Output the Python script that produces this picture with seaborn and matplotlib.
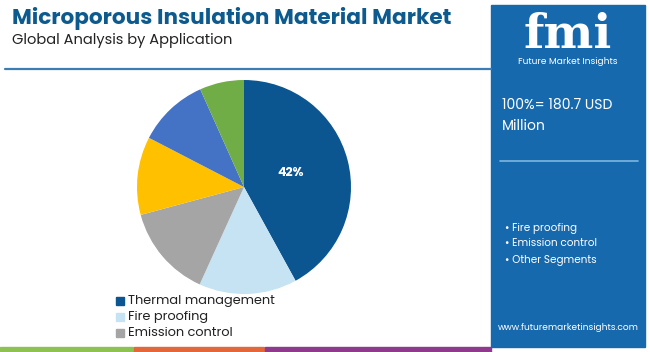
import matplotlib.pyplot as plt
import seaborn as sns
from matplotlib.patches import Rectangle

sns.set_theme(style="white")
plt.rcParams["font.family"] = ["Poppins", "Lato", "DejaVu Sans"]

segments = ["Thermal management", "Fire proofing", "Emission control",
            "Segment 4", "Segment 5", "Segment 6"]
shares = [42.0, 14.8, 14.0, 11.8, 10.7, 6.7]
colors = ["#0B5591", "#C5E3F3", "#A5A5A5", "#FFC000", "#4472C4", "#70AD47"]
legend_items = ["Thermal management", "Fire proofing", "Emission control"]
side_bullets = ["Fire proofing", "Emission control", "Other Segments"]
total_text = "100%= 180.7 USD\nMillion"

fig = plt.figure(figsize=(6.5, 3.52), dpi=100)
fig.patch.set_facecolor("white")

# header
fig.text(12 / 650, 1 - 18 / 352, "Microporous Insulation Material Market",
         fontsize=15.5, fontweight="bold", color="#0D5A8E", va="center")
fig.text(12 / 650, 1 - 40 / 352, "Global Analysis by Application",
         fontsize=10.5, color="#222222", va="center")
fig.add_artist(plt.Line2D([5 / 650, 491 / 650], [1 - 69 / 352] * 2,
                          color="#3B7DB5", lw=1.6))

# bottom colour strip
for x0, x1, c in [(0, 133, "#8DC153"), (134, 264, "#E2683C"), (265, 491, "#8E3B8E")]:
    fig.add_artist(Rectangle((x0 / 650, 0), (x1 - x0) / 650, 5 / 352,
                             color=c, transform=fig.transFigure))

# side panel
fig.add_artist(Rectangle((491 / 650, 5 / 352), 154 / 650, 342 / 352,
                         color="#1769AD", transform=fig.transFigure))
fig.text(568 / 650, 1 - 35 / 352, "fmi", fontsize=34, fontweight="bold",
         family="DejaVu Serif", color="white", ha="center", va="center")
fig.text(568 / 650, 1 - 61 / 352, "Future Market Insights", fontsize=6.5,
         color="white", ha="center", va="center")
fig.text(502 / 650, 1 - 116 / 352, total_text, fontsize=10, color="white",
         va="center", linespacing=1.6)
fig.add_artist(plt.Line2D([500 / 650, 638 / 650], [1 - 161 / 352] * 2,
                          color="#7FB6E0", lw=1.2))
for i, b in enumerate(side_bullets):
    y = [229, 243, 260][i]
    fig.text(505 / 650, 1 - y / 352, "\u2022 " + b, fontsize=7.5, color="white",
             va="center")
fig.text(568 / 650, 1 - 327 / 352, "www.futuremarketinsights.com", fontsize=6.5,
         color="white", ha="center", va="center")

# pie
r = 107
cx, cy = 244, 187
ax = fig.add_axes([(cx - r) / 650, 1 - (cy + r) / 352, 2 * r / 650, 2 * r / 352])
wedges, _ = ax.pie(shares, colors=colors, startangle=90, counterclock=False,
                   wedgeprops=dict(linewidth=0))
ax.set_xlim(-1, 1)
ax.set_ylim(-1, 1)
ax.set_aspect("equal")
ax.text(0.44, 0.13, f"{shares[0]:.0f}%", color="white", fontsize=9,
        fontweight="bold", ha="center", va="center")

# legend
for i, name in enumerate(legend_items):
    y = [301, 317, 333][i]
    fig.add_artist(Rectangle((116 / 650, 1 - (y + 4) / 352), 8 / 650, 8 / 352,
                             color=colors[i], transform=fig.transFigure))
    fig.text(128 / 650, 1 - y / 352, name, fontsize=9.3, color="#222222",
             va="center")

fig.savefig("out.png", dpi=100)
